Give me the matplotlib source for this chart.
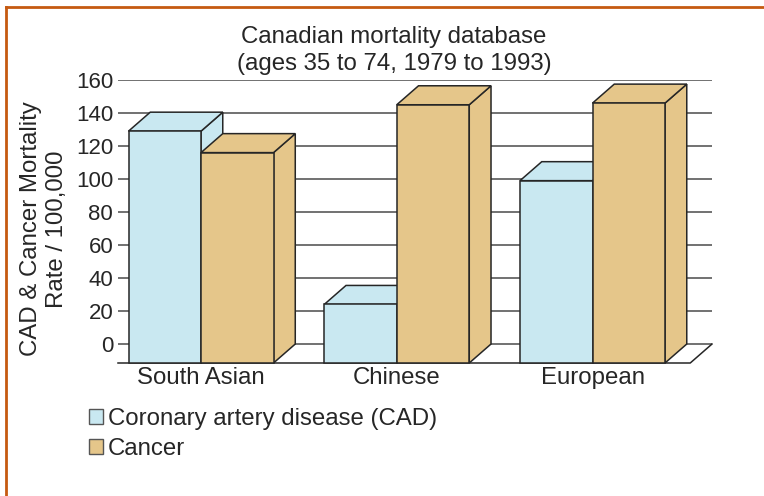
import numpy as np
import matplotlib
matplotlib.use('Agg')
import matplotlib.pyplot as plt
from matplotlib.patches import Polygon, Patch
from matplotlib.lines import Line2D

# mortality per 100,000, ages 35-74
groups = ['South Asian', 'Chinese', 'European']
cad = [129, 24, 99]
cancer = [116, 145, 146]
series_names = ['Coronary artery disease (CAD)', 'Cancer']
y_ticks = [0, 20, 40, 60, 80, 100, 120, 140, 160]

CAD_COLOR = '#c9e8f1'
CANCER_COLOR = '#e5c68a'
EDGE = '#262626'
TEXT = '#262626'
BORDER = '#c55a11'

# fake 3d: how far the back of each box sits from its front face
DEPTH_X = 0.30
DEPTH_Y = 11.5
BAR_W = 1.0
GROUP_STEP = 2.7

LABEL_SIZE = 17.3

plt.rcParams['font.family'] = ['Liberation Sans', 'DejaVu Sans']
plt.rcParams['font.size'] = LABEL_SIZE
plt.rcParams['text.color'] = TEXT


def draw_box(ax, x0, top, color):
    base = -DEPTH_Y
    x1 = x0 + BAR_W
    front = [(x0, base), (x1, base), (x1, top), (x0, top)]
    side = [(x1, base), (x1 + DEPTH_X, 0), (x1 + DEPTH_X, top + DEPTH_Y), (x1, top)]
    lid = [(x0, top), (x1, top), (x1 + DEPTH_X, top + DEPTH_Y), (x0 + DEPTH_X, top + DEPTH_Y)]
    for pts in (side, lid, front):
        ax.add_patch(Polygon(pts, closed=True, facecolor=color, edgecolor=EDGE,
                             lw=1.1, joinstyle='miter', zorder=3, clip_on=False))


fig = plt.figure(figsize=(7.64, 4.96), dpi=100)
ax = fig.add_axes([118 / 764, 1 - 363 / 496, 594 / 764, 283 / 496])

centers = np.arange(len(groups)) * GROUP_STEP
x_lo = -1.145
x_hi = x_lo + 594 / 72.5
ax.set_xlim(x_lo, x_hi)
ax.set_ylim(-DEPTH_Y, 160)

# back wall gridlines
for t in y_ticks:
    ax.plot([x_lo, x_hi], [t, t], color='#4a4a4a', lw=1.1, zorder=1, solid_capstyle='butt')

# floor outline
ax.plot([x_lo, x_hi - DEPTH_X, x_hi], [-DEPTH_Y, -DEPTH_Y, 0], color=EDGE, lw=1.1,
        zorder=1, clip_on=False)

for c, a, b in zip(centers, cad, cancer):
    draw_box(ax, c - BAR_W, a, CAD_COLOR)
    draw_box(ax, c, b, CANCER_COLOR)

ax.set_yticks(y_ticks)
ax.set_yticklabels([str(t) for t in y_ticks], fontsize=16)
ax.set_xticks(centers)
ax.set_xticklabels(groups)
ax.tick_params(axis='y', length=0, pad=3.5, labelcolor=TEXT)
ax.tick_params(axis='x', length=0, pad=3, labelcolor=TEXT)
for s in ax.spines.values():
    s.set_visible(False)
ax.patch.set_visible(False)

fig.text(394 / 764, 1 - 43 / 496, 'Canadian mortality database', ha='center', va='baseline')
fig.text(394 / 764, 1 - 70 / 496, '(ages 35 to 74, 1979 to 1993)', ha='center', va='baseline')
fig.text(44 / 764, 1 - 229 / 496, 'CAD & Cancer Mortality\nRate / 100,000', rotation=90,
         ha='center', va='center', multialignment='center', linespacing=1.22)

handles = [Patch(facecolor=CAD_COLOR, edgecolor='#555555', lw=1.0),
           Patch(facecolor=CANCER_COLOR, edgecolor='#555555', lw=1.0)]
fig.legend(handles, series_names, loc='upper left', bbox_to_anchor=(89 / 764, 1 - 408 / 496),
           frameon=False, handlelength=0.6, handleheight=0.6, handletextpad=0.2,
           labelspacing=0.32, borderpad=0, borderaxespad=0)

# frame on the top and left edge of the panel
fig.add_artist(Line2D([6 / 764, 1], [1 - 7 / 496, 1 - 7 / 496], color=BORDER, lw=2))
fig.add_artist(Line2D([6 / 764, 6 / 764], [0, 1 - 7 / 496], color=BORDER, lw=2))

fig.savefig('out.png', dpi=100)
